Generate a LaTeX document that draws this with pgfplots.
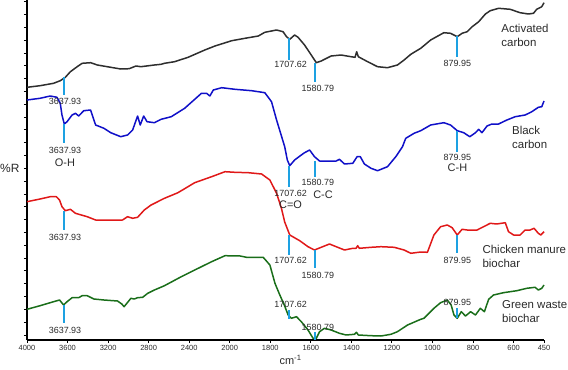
\documentclass[border=0pt]{standalone}
\usepackage{pgfplots}
\pgfplotsset{compat=1.18}
\usepackage{fontspec}
\setmainfont{Liberation Sans}
\definecolor{cA}{HTML}{2E2E2E}
\definecolor{cB}{HTML}{1010C8}
\definecolor{cC}{HTML}{E01818}
\definecolor{cD}{HTML}{1A6E1A}
\definecolor{mk}{HTML}{1DA1E2}
\definecolor{tx}{HTML}{2A2A2A}
\begin{document}
\begin{tikzpicture}
\begin{axis}[
  scale only axis, width=517bp, height=340bp,
  x coord trafo/.code={\pgfmathparse{#1>=2000?(4000-#1)/2:3000-#1}},
  xmin=4000, xmax=450, ymin=0, ymax=340,
  axis x line=bottom, axis y line=left,
  axis line style={-, line width=1.4bp, black},
  xtick={4000,3600,3200,2800,2400,2000,1800,1600,1400,1200,1000,800,600,450},
  xticklabels={4000,3600,3200,2800,2400,2000,1800,1600,1400,1200,1000,800,600,450},
  ytick={5,17.82,...,339}, yticklabels={},
  tick align=outside, major tick length=3bp,
  tick style={line width=0.9bp, black},
  xticklabel style={font=\fontsize{7.5}{9}\selectfont, text=tx, yshift=1bp},
  clip=false,
  every axis plot/.append style={line width=1.5bp, line join=round},
]
% Activated carbon
\addplot[cA] coordinates {
(4000,252.7)(3871,254.3)(3738,256.7)(3672,259.3)(3622,262.7)(3572,268.3)(3505,273.3)(3456,276.7)
(3373,277.3)(3306,275)(3174,272.7)(3075,271)(2992,271.3)(2925,274)(2876,273.3)(2743,275)(2677,275.7)
(2644,276.7)(2544,278.3)(2411,282.7)(2246,290)(2146,294)(1990,299.3)(1925,301.7)(1859,304)(1827,307.7)
(1769,310)(1737,308.3)(1720,303.3)(1704,300.7)(1680,305)(1663,302.7)(1631,295)(1598,285)(1573,277.3)
(1549,279)(1500,284)(1451,285)(1402,283.3)(1382,282.7)(1374,288.3)(1366,283.3)(1320,278.3)(1271,273.3)
(1222,272.3)(1173,275)(1140,280)(1107,285.7)(1058,291.7)(1009,300)(944,307.3)(911,306.7)(878,303.3)
(854,306.7)(829,308.3)(804,313.3)(772,318.3)(739,326)(715,329.3)(674,331.7)(617,330.7)(568,327.3)
(527,326)(502,326.7)(486,330.7)(461,333.3)(450,337.3)
};
% Black carbon
\addplot[cB] coordinates {
(4000,240)(3871,241.7)(3771,244)(3704,242.7)(3672,236.7)(3655,225)(3632,216)(3605,218.3)(3555,225)
(3522,226.7)(3490,224)(3440,229.3)(3373,230)(3323,215)(3241,211.7)(3174,207.3)(3075,203.3)(3008,205)
(2958,210)(2909,224)(2883,215)(2849,224)(2816,218.3)(2743,217.3)(2677,220.7)(2577,223.3)(2445,231.7)
(2279,246.7)(2229,246.7)(2196,244)(2162,250)(2079,252.3)(1974,250.7)(1892,249.3)(1827,247.3)(1794,238.3)
(1769,220)(1745,204)(1729,193.3)(1716,180)(1704,174.3)(1680,180)(1647,185)(1631,187.3)(1606,190)
(1582,183.3)(1557,179)(1516,179)(1475,179)(1459,180.7)(1434,176)(1393,176.7)(1372,183.3)(1356,183.3)
(1336,176)(1303,171.7)(1271,169.3)(1222,173.3)(1181,183.3)(1148,193.3)(1132,201.7)(1091,206.7)(1058,209.3)
(1009,215)(944,217.3)(911,215)(878,209.3)(846,207.3)(816,203.3)(788,207.3)(772,210.7)(756,207.3)
(731,214)(707,216)(674,216)(633,220)(592,223.3)(543,225)(510,228.3)(478,232.7)(461,233.3)(450,239)
};
% Chicken manure biochar
\addplot[cC] coordinates {
(4000,138.3)(3871,141)(3771,143.3)(3711,143.3)(3679,140)(3655,133.3)(3622,129.3)(3572,130.7)(3522,126.7)
(3406,123.3)(3323,120)(3207,120)(3058,120)(3008,123.3)(2958,121.7)(2909,122.7)(2843,130)(2776,135)
(2644,141.7)(2511,147.3)(2346,157.3)(2179,163.3)(2047,168.3)(1974,167.7)(1908,167.3)(1843,166)(1802,160)
(1769,146.7)(1745,131.7)(1729,118)(1704,105)(1655,99.3)(1614,93.3)(1582,90)(1549,92.7)(1508,96)
(1475,93.3)(1434,90)(1393,91.7)(1377,91.7)(1369,94.3)(1361,91.7)(1303,92.7)(1254,93.3)(1189,92.7)
(1140,90)(1107,86.7)(1058,88)(1025,87.7)(993,105)(960,113.3)(927,115)(903,112.3)(878,105)(854,110.7)
(829,110)(780,110)(748,113.3)(715,116.7)(683,116)(641,117.3)(625,108.3)(600,105)(568,105)(543,110)
(519,110)(499,111.7)(478,106.7)(466,105)(450,108.3)
};
% Green waste biochar
\addplot[cD] coordinates {
(4000,30.7)(3871,34.3)(3738,38.3)(3679,40)(3639,35)(3605,38.3)(3555,42.3)(3490,42.3)(3456,44.3)
(3406,44.3)(3340,41)(3241,40)(3107,39)(3065,36)(3042,33.3)(3015,36.7)(2975,41.7)(2942,41)(2909,42.3)
(2859,42.7)(2809,46.7)(2743,50)(2644,54.3)(2478,63.3)(2311,71.7)(2179,78.3)(2047,84.3)(1949,84)
(1917,82.7)(1835,82.7)(1802,75)(1777,56.7)(1753,45)(1729,34)(1712,25)(1696,21.7)(1671,23.3)(1647,18.3)
(1614,10)(1589,1.7)(1573,1.7)(1557,8.3)(1533,11.7)(1500,10)(1459,6.7)(1426,5)(1385,5.7)(1375,7.7)
(1366,5)(1303,4.3)(1254,4)(1205,5.7)(1173,8.3)(1123,15)(1058,20.7)(1042,21.7)(993,31.7)(960,37.3)
(927,40)(908,35)(894,25)(878,21.7)(858,28.3)(837,24)(812,28.3)(788,25)(764,31.7)(744,28.3)(723,40.7)
(699,45)(650,47.3)(584,49.3)(535,51.7)(494,52.7)(478,50)(461,51.7)(450,55)
};
% marker lines
\pgfplotsset{mkl/.style={mk, line width=1.6bp, forget plot}}
\addplot[mkl] coordinates {(3637.93,263)(3637.93,245)};
\addplot[mkl] coordinates {(1707.62,302)(1707.62,280)};
\addplot[mkl] coordinates {(1580.79,277)(1580.79,258)};
\addplot[mkl] coordinates {(879.95,304)(879.95,283)};
\addplot[mkl] coordinates {(3637.93,216)(3637.93,197)};
\addplot[mkl] coordinates {(1707.62,174)(1707.62,153)};
\addplot[mkl] coordinates {(1580.79,179)(1580.79,163)};
\addplot[mkl] coordinates {(879.95,209)(879.95,188)};
\addplot[mkl] coordinates {(3637.93,129)(3637.93,110)};
\addplot[mkl] coordinates {(1707.62,105)(1707.62,85)};
\addplot[mkl] coordinates {(1580.79,90)(1580.79,72)};
\addplot[mkl] coordinates {(879.95,105)(879.95,87)};
\addplot[mkl] coordinates {(3637.93,35)(3637.93,17)};
\addplot[mkl] coordinates {(1707.62,30)(1707.62,21)};
\addplot[mkl] coordinates {(1580.79,8)(1580.79,0)};
\addplot[mkl] coordinates {(879.95,32)(879.95,22)};
% marker labels
\begin{scope}[every node/.style={text=tx, font=\fontsize{9}{10}\selectfont, inner sep=0}]
\node at (axis cs:3625,239) {3637.93};
\node at (axis cs:1700,276) {1707.62};
\node at (axis cs:1565,252) {1580.79};
\node at (axis cs:877,277) {879.95};
\node at (axis cs:3625,190) {3637.93};
\node at (axis cs:1700,147) {1707.62};
\node at (axis cs:1565,158) {1580.79};
\node at (axis cs:877,183) {879.95};
\node at (axis cs:3625,103) {3637.93};
\node at (axis cs:1700,80) {1707.62};
\node at (axis cs:1565,65) {1580.79};
\node at (axis cs:877,80) {879.95};
\node at (axis cs:3625,10) {3637.93};
\node at (axis cs:1700,36) {1707.62};
\node at (axis cs:1565,13) {1580.79};
\node at (axis cs:877,38) {879.95};
\end{scope}
\begin{scope}[every node/.style={text=tx, font=\fontsize{11}{13}\selectfont, inner sep=0}]
\node at (axis cs:3625,177) {O-H};
\node at (axis cs:1700,135) {C=O};
\node at (axis cs:1540,145) {C-C};
\node at (axis cs:877,172) {C-H};
\end{scope}
\begin{scope}[every node/.style={text=tx, font=\fontsize{11.5}{14}\selectfont, inner sep=0, anchor=west, align=left}]
\node at (axis cs:661,305) {Activated\\carbon};
\node at (axis cs:608,203) {Black\\carbon};
\node at (axis cs:754,83.5) {Chicken manure\\biochar};
\node at (axis cs:657,28.5) {Green waste\\biochar};
\end{scope}
\node[text=tx, font=\fontsize{12}{14}\selectfont, inner sep=0, anchor=west] at ([xshift=-27bp]axis cs:4000,172) {\%R};
\node[text=tx, font=\fontsize{11}{13}\selectfont, inner sep=0, anchor=west] at (axis cs:1755,-20) {cm\textsuperscript{-1}};
\end{axis}
\pgfresetboundingbox
\path[use as bounding box] ([shift={(-27bp,-30bp)}]current axis.south west) rectangle ([shift={(24bp,0bp)}]current axis.north east);
\end{tikzpicture}
\end{document}
